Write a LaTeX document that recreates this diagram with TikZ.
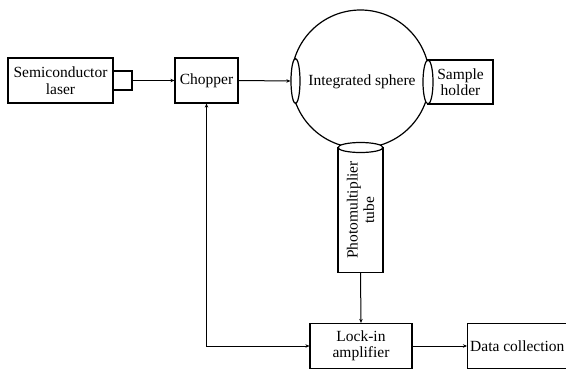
\documentclass[tikz,border=0pt]{standalone}
\usepackage{fontspec}
\setmainfont{Liberation Serif}
\usetikzlibrary{shapes.geometric,arrows.meta}
\begin{document}
\begin{tikzpicture}[x=1pt,y=-1pt,
  every node/.style={font=\fontsize{15.5}{16.5}\selectfont, inner sep=0pt, align=center},
  box/.style={draw, line width=1.2pt, fill=white},
  hole/.style={draw, ellipse, line width=1.2pt, fill=white},
  conn/.style={line width=1pt, -{Stealth[length=4pt,width=3.5pt]}}]
\useasboundingbox (0,0) rectangle (566,370);
% sphere
\node[draw, circle, line width=1.2pt, minimum size=138pt] (sphere) at (360.5,79) {};
\node at (362,82) (spheretext) {Integrated sphere};
% boxes
\node[box, minimum width=105pt, minimum height=45pt] (laser) at (60.5,80.5) {Semiconductor\\laser};
\node[box, minimum width=19pt, minimum height=19pt] (nozzle) at (122.5,80.5) {};
\node[box, minimum width=63pt, minimum height=45pt] (chopper) at (206.5,80.5) {Chopper};
\node[box, minimum width=65pt, minimum height=44pt] (sample) at (460.5,82) {Sample\\holder};
\node[hole, minimum width=9pt, minimum height=45pt] (lefthole) at (295.5,81) {};
\node[hole, minimum width=10pt, minimum height=44pt] (righthole) at (428,82) {};
\node[box, minimum width=45pt, minimum height=125pt] (tube) at (360.5,210) {};
\node[rotate=90] (tubetext) at (360.5,210) {Photomultiplier\\tube};
\node[hole, minimum width=45pt, minimum height=10pt] (tubehole) at (360.5,147.5) {};
\node[box, minimum width=102pt, minimum height=45pt] (lockin) at (361,346) {Lock-in\\amplifier};
\node[box, minimum width=110pt, minimum height=45pt, anchor=west] (data) at (467,346) {};
\node[anchor=west] (datatext) at (470,346) {Data collection};
% connectors
\draw[conn] (nozzle.east) -- (chopper.west);
\draw[conn] (chopper.east) -- (lefthole.west);
\draw[conn] (tube.south) -- (lockin.north);
\draw[conn] (lockin.east) -- (data.west);
\draw[line width=1pt, {Stealth[length=4pt,width=3.5pt]}-{Stealth[length=4pt,width=3.5pt]}] (lockin.west) -| (chopper.south);
\end{tikzpicture}
\end{document}
